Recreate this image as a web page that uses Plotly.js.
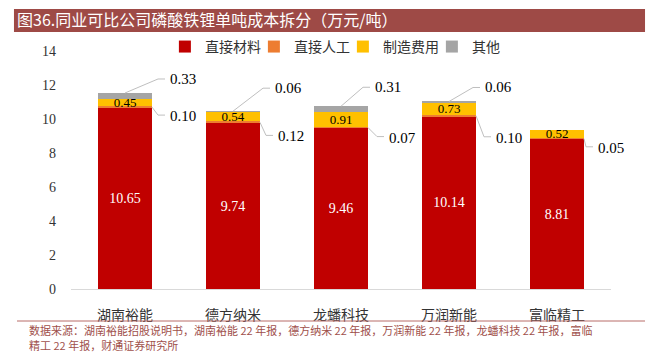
<!DOCTYPE html>
<html>
<head>
<meta charset="utf-8">
<script src="https://cdn.plot.ly/plotly-3.0.1.min.js"></script>
<style>html,body{margin:0;padding:0;background:#fff;}#chart{width:651px;height:352px;}</style>
</head>
<body>
<div id="chart"></div>
<script>
// ---- data ----
const categories = ['湖南裕能', '德方纳米', '龙蟠科技', '万润新能', '富临精工'];
const seriesNames = ['直接材料', '直接人工', '制造费用', '其他'];
const directMaterial = [10.65, 9.74, 9.46, 10.14, 8.81];
const directLabor = [0.10, 0.12, 0.07, 0.10, 0.05];
const manufacturing = [0.45, 0.54, 0.91, 0.73, 0.52];
const other = [0.33, 0.06, 0.31, 0.06, 0];
const yTicks = [0, 2, 4, 6, 8, 10, 12, 14];

// ---- style / label placement (pixels) ----
const colors = ['#C00000', '#ED7D31', '#FFC000', '#A5A5A5'];
const FONT = "'Liberation Serif', 'Noto Sans CJK SC', serif";
const CJK = "'Noto Sans CJK SC', 'Liberation Serif', sans-serif";
const barWidth = 0.5;
// leader line elbow offsets (pixels) per bar
const laborLeader = [[6, -8], [6, -13], [9, -9], [8, -21], [2, -8]];
const otherLeader = [[33, 14], [30, 23], [22, 19], [24, 14], null];
const elbowLen = 7;

const xIdx = categories.map((_, i) => i);
const fmt = v => v.toFixed(2);

const traces = [directMaterial, directLabor, manufacturing, other].map((vals, k) => ({
  type: 'bar',
  name: seriesNames[k],
  x: xIdx,
  y: vals,
  width: barWidth,
  marker: {color: colors[k], line: {width: 0}},
  hoverinfo: 'skip'
}));
traces[0].text = directMaterial.map(fmt);
traces[0].textposition = 'inside';
traces[0].insidetextanchor = 'middle';
traces[0].constraintext = 'none';
traces[0].textfont = {family: FONT, size: 14, color: '#FFFFFF'};
traces[2].text = manufacturing.map(fmt);
traces[2].textposition = 'inside';
traces[2].insidetextanchor = 'middle';
traces[2].constraintext = 'none';
traces[2].textfont = {family: FONT, size: 13, color: '#000000'};
traces[1].textposition = 'none';
traces[3].textposition = 'none';

const shapes = [];
const annotations = [];

// title band
shapes.push({type: 'rect', xref: 'paper', yref: 'paper', x0: -0.1056, x1: 1.063, y0: 1.0798, y1: 1.1765,
  fillcolor: '#9E4A46', line: {width: 0}, layer: 'below'});
// footer separator
shapes.push({type: 'line', xref: 'paper', yref: 'paper', x0: -0.1, x1: 1.063, y0: -0.1345, y1: -0.1345,
  line: {color: '#B86C68', width: 1}});

const lineStyle = {color: '#BFBFBF', width: 1};

directLabor.forEach((v, i) => {
  const yAnchor = directMaterial[i] + v / 2;
  const [dx, dy] = laborLeader[i];
  shapes.push({type: 'path', xref: 'x', yref: 'y', xsizemode: 'pixel', ysizemode: 'pixel',
    xanchor: i + barWidth / 2, yanchor: yAnchor,
    path: `M0,0 L${dx},${dy} L${dx + elbowLen},${dy}`, line: lineStyle});
  annotations.push({xref: 'x', yref: 'y', x: i + barWidth / 2, y: yAnchor, showarrow: false,
    text: fmt(v), xanchor: 'left', yanchor: 'middle', xshift: dx + elbowLen + 3, yshift: dy - 1,
    font: {family: FONT, size: 15, color: '#000'}});
});
other.forEach((v, i) => {
  if (!v || !otherLeader[i]) return;
  const yAnchor = directMaterial[i] + directLabor[i] + manufacturing[i] + v;
  const [dx, dy] = otherLeader[i];
  shapes.push({type: 'path', xref: 'x', yref: 'y', xsizemode: 'pixel', ysizemode: 'pixel',
    xanchor: i, yanchor: yAnchor,
    path: `M0,0 L${dx},${dy} L${dx + elbowLen},${dy}`, line: lineStyle});
  annotations.push({xref: 'x', yref: 'y', x: i, y: yAnchor, showarrow: false,
    text: fmt(v), xanchor: 'left', yanchor: 'middle', xshift: dx + elbowLen + 3, yshift: dy,
    font: {family: FONT, size: 15, color: '#000'}});
});

const footer1 = '数据来源：湖南裕能招股说明书，湖南裕能 22 年报，德方纳米 22 年报，万润新能 22 年报，龙蟠科技 22 年报，富临';
const footer2 = '精工 22 年报，财通证券研究所';
annotations.push({xref: 'paper', yref: 'paper', x: -0.0796, y: -0.1723, xanchor: 'left', yanchor: 'middle',
  showarrow: false, borderpad: 0, text: footer1, font: {family: CJK, size: 11, color: '#A0504B'}});
annotations.push({xref: 'paper', yref: 'paper', x: -0.0796, y: -0.2353, xanchor: 'left', yanchor: 'middle',
  showarrow: false, borderpad: 0, text: footer2, font: {family: CJK, size: 11, color: '#A0504B'}});

const layout = {
  width: 651, height: 352,
  margin: {l: 71, r: 40, t: 51, b: 63, pad: 0},
  paper_bgcolor: '#FFFFFF', plot_bgcolor: '#FFFFFF',
  barmode: 'stack',
  showlegend: true,
  title: {text: '图36.同业可比公司磷酸铁锂单吨成本拆分（万元/吨）', x: 17 / 651, xanchor: 'left', xref: 'container',
    y: 1 - 20 / 352, yanchor: 'middle', yref: 'container',
    font: {family: CJK, size: 16, color: '#FFFFFF'}},
  legend: {orientation: 'h', x: 0.5035, xanchor: 'center', y: 1.017, yanchor: 'middle',
    font: {family: CJK, size: 14, color: '#333'}, itemwidth: 30, entrywidth: 44, entrywidthmode: 'pixels',
    traceorder: 'normal', bgcolor: 'rgba(0,0,0,0)'},
  xaxis: {range: [-0.5, 4.5], tickvals: xIdx, ticktext: categories, showgrid: false, zeroline: false,
    showline: true, linecolor: '#D9D9D9', linewidth: 1, ticks: '', ticklabelstandoff: 13,
    tickfont: {family: CJK, size: 14, color: '#333'}, fixedrange: true},
  yaxis: {range: [0, 14], tickvals: yTicks, showgrid: false, zeroline: false, showline: false, ticks: '',
    ticklabelstandoff: 14, tickfont: {family: FONT, size: 14, color: '#333'}, fixedrange: true},
  shapes: shapes,
  annotations: annotations
};

Plotly.newPlot('chart', traces, layout, {displayModeBar: false, staticPlot: true});
</script>
</body>
</html>
